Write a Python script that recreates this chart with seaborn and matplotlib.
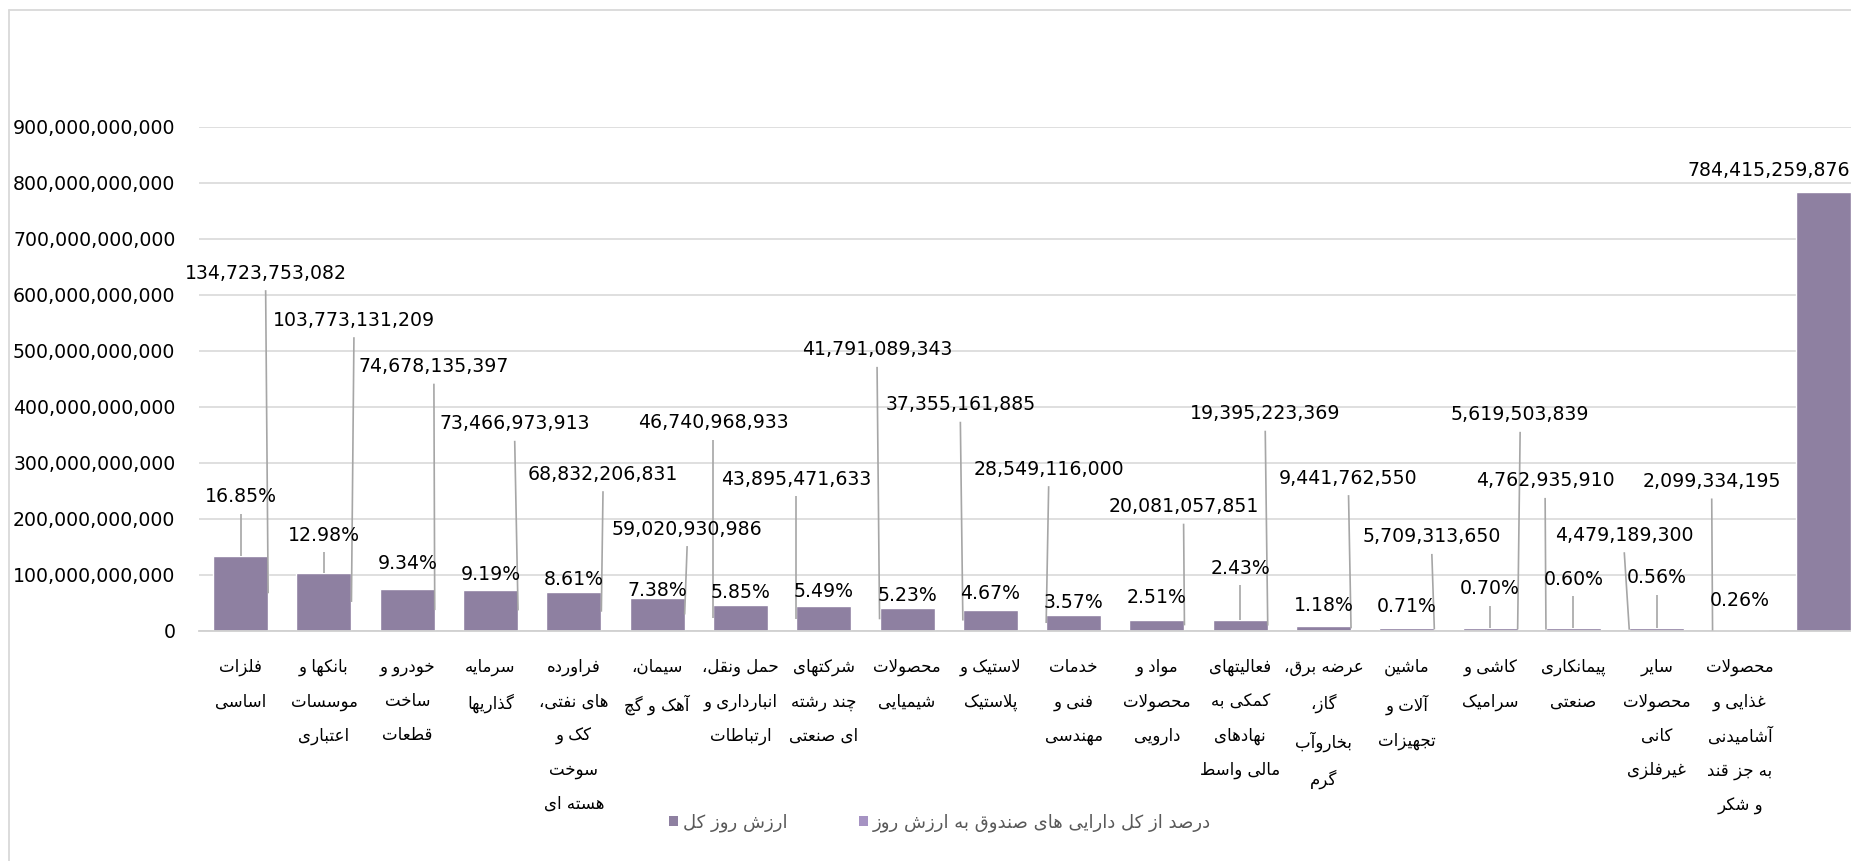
import numpy as np
import pandas as pd
import matplotlib
matplotlib.use("Agg")
import matplotlib.pyplot as plt
from matplotlib.patches import Patch
from matplotlib.lines import Line2D
import seaborn as sns

# ---------------- data ----------------
sectors = [
    "فلزات\nاساسی",
    "بانکها و\nموسسات\nاعتباری",
    "خودرو و\nساخت\nقطعات",
    "سرمایه\nگذاریها",
    "فراورده\nهای نفتی،\nکک و\nسوخت\nهسته ای",
    "سیمان،\nآهک و گچ",
    "حمل ونقل،\nانبارداری و\nارتباطات",
    "شرکتهای\nچند رشته\nای صنعتی",
    "محصولات\nشیمیایی",
    "لاستیک و\nپلاستیک",
    "خدمات\nفنی و\nمهندسی",
    "مواد و\nمحصولات\nدارویی",
    "فعالیتهای\nکمکی به\nنهادهای\nمالی واسط",
    "عرضه برق،\nگاز،\nبخاروآب\nگرم",
    "ماشین\nآلات و\nتجهیزات",
    "کاشی و\nسرامیک",
    "پیمانکاری\nصنعتی",
    "سایر\nمحصولات\nکانی\nغیرفلزی",
    "محصولات\nغذایی و\nآشامیدنی\nبه جز قند\nو شکر",
    "",
]
total_value = [134723753082, 103773131209, 74678135397, 73466973913, 68832206831,
               59020930986, 46740968933, 43895471633, 41791089343, 37355161885,
               28549116000, 20081057851, 19395223369, 9441762550, 5709313650,
               5619503839, 4762935910, 4479189300, 2099334195, 784415259876]
pct_of_assets = [16.85, 12.98, 9.34, 9.19, 8.61, 7.38, 5.85, 5.49, 5.23, 4.67,
                 3.57, 2.51, 2.43, 1.18, 0.71, 0.70, 0.60, 0.56, 0.26, np.nan]
series_names = ["ارزش روز کل", "درصد از کل دارایی های صندوق به ارزش روز"]
y_ticks = [0, 100e9, 200e9, 300e9, 400e9, 500e9, 600e9, 700e9, 800e9, 900e9]

# ------------- label layout (positions of data labels, Excel-like) -------------
val_label_dx = [0.30, 0.36, 0.32, 0.29, 0.35, 0.36, -0.33, -0.33, -0.36, -0.36,
                -0.30, 0.32, 0.30, 0.30, 0.30, 0.36, -0.34, -0.39, -0.34, -0.65]
val_label_y = [639, 555, 472, 370, 280, 182, 372, 271, 502, 404,
               289, 222, 388, 273, 168, 386, 268, 171, 267, 822]   # billions
pct_label_y = [240, 171, 120, 100, 92, 72, 68, 71, 63, 67,
               51, 60, 112, 46, 43, 75, 92, 95, 54]                # billions
pct_leader = [1, 1, 0, 0, 0, 0, 0, 0, 0, 0, 0, 0, 1, 0, 0, 1, 1, 1, 0]

# ------------- simple Persian shaping (presentation forms + RTL order) -------------
DUAL = {
    'ب': (0xFE8F, 0xFE90, 0xFE91, 0xFE92), 'پ': (0xFB56, 0xFB57, 0xFB58, 0xFB59),
    'ت': (0xFE95, 0xFE96, 0xFE97, 0xFE98), 'ث': (0xFE99, 0xFE9A, 0xFE9B, 0xFE9C),
    'ج': (0xFE9D, 0xFE9E, 0xFE9F, 0xFEA0), 'چ': (0xFB7A, 0xFB7B, 0xFB7C, 0xFB7D),
    'ح': (0xFEA1, 0xFEA2, 0xFEA3, 0xFEA4), 'خ': (0xFEA5, 0xFEA6, 0xFEA7, 0xFEA8),
    'س': (0xFEB1, 0xFEB2, 0xFEB3, 0xFEB4), 'ش': (0xFEB5, 0xFEB6, 0xFEB7, 0xFEB8),
    'ص': (0xFEB9, 0xFEBA, 0xFEBB, 0xFEBC), 'ض': (0xFEBD, 0xFEBE, 0xFEBF, 0xFEC0),
    'ط': (0xFEC1, 0xFEC2, 0xFEC3, 0xFEC4), 'ظ': (0xFEC5, 0xFEC6, 0xFEC7, 0xFEC8),
    'ع': (0xFEC9, 0xFECA, 0xFECB, 0xFECC), 'غ': (0xFECD, 0xFECE, 0xFECF, 0xFED0),
    'ف': (0xFED1, 0xFED2, 0xFED3, 0xFED4), 'ق': (0xFED5, 0xFED6, 0xFED7, 0xFED8),
    'ک': (0xFB8E, 0xFB8F, 0xFB90, 0xFB91), 'ك': (0xFED9, 0xFEDA, 0xFEDB, 0xFEDC),
    'گ': (0xFB92, 0xFB93, 0xFB94, 0xFB95), 'ل': (0xFEDD, 0xFEDE, 0xFEDF, 0xFEE0),
    'م': (0xFEE1, 0xFEE2, 0xFEE3, 0xFEE4), 'ن': (0xFEE5, 0xFEE6, 0xFEE7, 0xFEE8),
    'ه': (0xFEE9, 0xFEEA, 0xFEEB, 0xFEEC), 'ی': (0xFEEF, 0xFEF0, 0xFEF3, 0xFEF4),
    'ي': (0xFEF1, 0xFEF2, 0xFEF3, 0xFEF4), 'ئ': (0xFE89, 0xFE8A, 0xFE8B, 0xFE8C),
}
RIGHT = {
    'ا': (0xFE8D, 0xFE8E), 'آ': (0xFE81, 0xFE82), 'أ': (0xFE83, 0xFE84),
    'إ': (0xFE87, 0xFE88), 'ؤ': (0xFE85, 0xFE86), 'د': (0xFEA9, 0xFEAA),
    'ذ': (0xFEAB, 0xFEAC), 'ر': (0xFEAD, 0xFEAE), 'ز': (0xFEAF, 0xFEB0),
    'ژ': (0xFB8A, 0xFB8B), 'و': (0xFEED, 0xFEEE), 'ة': (0xFE93, 0xFE94),
}
LAM_ALEF = {'ا': (0xFEFB, 0xFEFC), 'آ': (0xFEF5, 0xFEF6),
            'أ': (0xFEF7, 0xFEF8), 'إ': (0xFEF9, 0xFEFA)}


def shape_line(s):
    res, prev_join, i, n = [], False, 0, len(s)
    while i < n:
        c = s[i]
        nxt = s[i + 1] if i + 1 < n else ''
        if c == 'ل' and nxt in LAM_ALEF:
            iso, fin = LAM_ALEF[nxt]
            res.append(chr(fin if prev_join else iso))
            prev_join = False
            i += 2
            continue
        if c in DUAL:
            nj = (nxt in DUAL) or (nxt in RIGHT)
            f = DUAL[c]
            if prev_join and nj:
                g = f[3]
            elif prev_join:
                g = f[1]
            elif nj:
                g = f[2]
            else:
                g = f[0]
            res.append(chr(g))
            prev_join = nj
        elif c in RIGHT:
            f = RIGHT[c]
            res.append(chr(f[1] if prev_join else f[0]))
            prev_join = False
        else:
            if c != '\u200c':
                res.append(c)
            prev_join = False
        i += 1
    return ''.join(reversed(res))


def shape(s):
    return "\n".join(shape_line(l) for l in s.split("\n"))


# ---------------- figure ----------------
W, H = 1851, 861
sns.set_style("white")
plt.rcParams['font.family'] = ['DejaVu Sans']

fig = plt.figure(figsize=(W / 100, H / 100), dpi=100)
ax = fig.add_axes([199 / W, 1 - 631 / H, 1666 / W, 504 / H])

bar_color = "#8E80A1"
pct_color = "#A693C3"

df = pd.DataFrame({"pos": np.arange(len(total_value)),
                   "value": total_value,
                   "pct": np.array(pct_of_assets) / 100.0})

sns.barplot(data=df, x="pos", y="value", color=bar_color, width=0.66,
            saturation=1, ax=ax, zorder=2)
sns.barplot(data=df, x="pos", y="pct", color=pct_color, width=0.66,
            saturation=1, ax=ax, zorder=2)

ax.set_xlim(-0.5, len(total_value) - 0.5)
ax.set_ylim(0, 900e9)
ax.set_yticks(y_ticks)
ax.set_yticklabels([f"{v:,.0f}" for v in y_ticks], fontsize=13.6, color="black")
ax.set_xticks(range(len(sectors)))
ax.set_xticklabels([shape(s) for s in sectors], fontsize=12, color="black",
                   linespacing=2.15, va="top")
ax.tick_params(axis="y", length=0, pad=17)
ax.tick_params(axis="x", length=0, pad=19.5)
ax.set_xlabel("")
ax.set_ylabel("")
ax.yaxis.grid(True, color="#DCDCDC", linewidth=1.3, zorder=0)
ax.set_axisbelow(True)
for side in ["left", "right", "top"]:
    ax.spines[side].set_visible(False)
ax.spines["bottom"].set_color("#D0D0D0")
ax.spines["bottom"].set_linewidth(1.3)

# data labels
px_per_unit = 504 / 900e9
off = 17 / px_per_unit
half_w = 0.33
lead_col = "#A6A6A6"
B = 1e9
for i, v in enumerate(total_value):
    lx = i + val_label_dx[i]
    ly = val_label_y[i] * B
    ax.text(lx, ly, f"{v:,}", ha="center", va="center", fontsize=13.6,
            color="black", zorder=5)
    if i < len(total_value) - 1:
        ex = i + (half_w if val_label_dx[i] > 0 else -half_w)
        ax.plot([lx, ex], [ly - off, v / 2], color=lead_col, lw=1.2, zorder=4,
                solid_capstyle="butt")

for i, p in enumerate(pct_of_assets):
    if np.isnan(p):
        continue
    ly = pct_label_y[i] * B
    ax.text(i, ly, f"{p:.2f}%", ha="center", va="center", fontsize=13.6,
            color="black", zorder=5)
    if pct_leader[i]:
        ax.plot([i, i], [ly - off, total_value[i]], color=lead_col, lw=1.2,
                zorder=4, solid_capstyle="butt")

# legend
handles = [Patch(facecolor=bar_color, edgecolor="none"),
           Patch(facecolor=pct_color, edgecolor="none")]
fig.legend(handles, [shape(s) for s in series_names], loc="center",
           bbox_to_anchor=(940 / W, 1 - 823 / H), ncol=2, frameon=False,
           handlelength=0.5, handleheight=0.5, handletextpad=0.25,
           columnspacing=4.0, fontsize=13, labelcolor="#595959")

# chart area border (left & top visible)
fig.add_artist(Line2D([9 / W, 9 / W], [0, 1 - 10 / H], color="#D9D9D9", lw=1.3))
fig.add_artist(Line2D([9 / W, 1], [1 - 10 / H, 1 - 10 / H], color="#D9D9D9", lw=1.3))

fig.savefig("out.png", dpi=100)
